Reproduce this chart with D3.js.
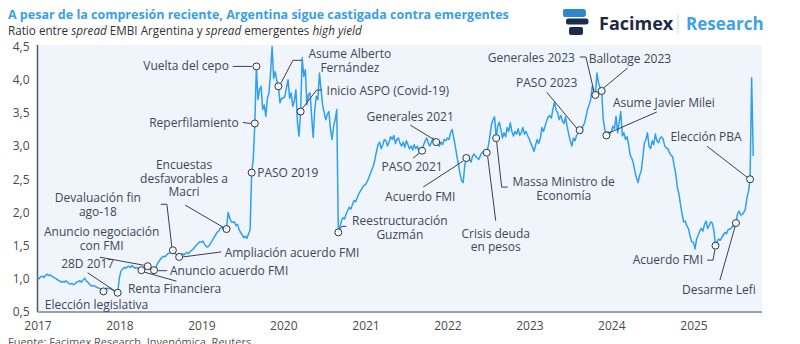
<!DOCTYPE html>
<html>
<head>
<meta charset="utf-8">
<script src="https://cdn.jsdelivr.net/npm/d3@7"></script>
<style>
  body { margin: 0; background: #fff; }
  svg { display: block; font-family: "Open Sans", sans-serif; }
</style>
</head>
<body>
<div class="grafico"></div>
<script>
// ratio spread EMBI Argentina / spread emergentes high yield, una observacion por semana desde el 1 de enero de cada año
const ratio2017 = [1.02, 1.00, 1.03, 1.04, 1.02, 1.05, 1.07, 1.05, 1.06, 1.04, 1.03, 1.01, 1.00, 0.98, 0.97, 0.95, 0.96, 0.95, 0.97, 0.95, 0.93, 0.92, 0.93, 0.91, 0.93, 0.95, 0.96, 0.97, 0.95, 0.98, 1.01, 0.97, 0.95, 0.92, 0.90, 0.89, 0.90, 0.88, 0.87, 0.86, 0.85, 0.83, 0.81, 0.84, 0.86, 0.85, 0.86, 0.84, 0.83, 0.82, 0.80, 0.79];
const ratio2018 = [1.02, 1.12, 1.15, 1.17, 1.16, 1.18, 1.19, 1.17, 1.20, 1.18, 1.16, 1.17, 1.15, 1.16, 1.13, 1.15, 1.17, 1.20, 1.19, 1.17, 1.15, 1.14, 1.13, 1.16, 1.22, 1.26, 1.29, 1.32, 1.34, 1.33, 1.36, 1.38, 1.39, 1.41, 1.43, 1.40, 1.37, 1.35, 1.33, 1.35, 1.38, 1.36, 1.38, 1.40, 1.38, 1.41, 1.43, 1.45, 1.48, 1.51, 1.53, 1.56];
const ratio2019 = [1.55, 1.57, 1.52, 1.49, 1.48, 1.50, 1.54, 1.58, 1.62, 1.66, 1.70, 1.72, 1.76, 1.78, 1.74, 1.77, 1.75, 2.00, 1.92, 1.86, 1.85, 1.86, 1.80, 1.82, 1.74, 1.70, 1.66, 1.62, 1.64, 1.61, 1.68, 1.74, 2.60, 2.80, 3.34, 4.20, 3.70, 3.85, 3.90, 3.55, 3.62, 3.45, 3.72, 3.80, 4.10, 4.50, 4.02, 4.12, 3.98, 3.90, 3.65, 3.72];
const ratio2020 = [3.72, 3.75, 3.88, 4.00, 3.72, 3.80, 3.60, 3.68, 3.85, 3.35, 3.15, 3.52, 4.33, 4.05, 4.15, 3.62, 3.78, 3.80, 3.45, 3.13, 3.55, 3.75, 3.70, 4.10, 3.85, 3.62, 3.50, 3.40, 3.48, 3.52, 3.25, 3.10, 3.30, 3.40, 3.55, 1.70, 1.78, 1.88, 1.92, 1.90, 1.98, 2.03, 2.08, 2.05, 2.12, 2.18, 2.16, 2.22, 2.28, 2.32, 2.36, 2.40];
const ratio2021 = [2.42, 2.46, 2.52, 2.58, 2.64, 2.70, 2.80, 2.92, 3.02, 3.06, 2.96, 3.02, 3.10, 3.08, 3.00, 3.06, 3.14, 3.10, 3.16, 3.04, 3.10, 3.12, 3.04, 3.00, 3.06, 2.98, 3.08, 3.02, 2.96, 3.00, 2.94, 3.02, 2.96, 3.00, 2.92, 2.97, 2.93, 3.02, 3.08, 3.12, 3.04, 3.00, 3.06, 3.12, 3.08, 3.06, 3.02, 3.00, 3.06, 3.02, 3.10, 3.08];
const ratio2022 = [3.12, 3.10, 3.20, 3.25, 3.12, 3.00, 2.85, 2.72, 2.58, 2.48, 2.45, 2.70, 2.82, 2.86, 2.80, 2.76, 2.85, 2.88, 2.84, 2.82, 2.80, 2.86, 2.90, 2.92, 2.88, 2.90, 3.00, 3.15, 3.32, 3.40, 3.44, 3.12, 3.30, 3.36, 3.25, 3.12, 3.20, 3.14, 3.28, 3.22, 3.35, 3.22, 3.15, 3.22, 3.18, 3.26, 3.16, 3.20, 3.28, 3.18, 3.22, 3.16];
const ratio2023 = [3.10, 3.04, 2.98, 2.92, 3.02, 3.10, 3.04, 3.12, 3.28, 3.22, 3.30, 3.38, 3.44, 3.46, 3.42, 3.56, 3.66, 3.54, 3.50, 3.40, 3.46, 3.38, 3.34, 3.44, 3.30, 3.18, 3.08, 3.00, 3.12, 3.08, 3.16, 3.20, 3.24, 3.20, 3.30, 3.34, 3.44, 3.55, 3.62, 3.70, 3.90, 3.82, 3.77, 4.10, 3.95, 3.88, 3.83, 3.40, 3.25, 3.16, 3.22, 3.18];
const ratio2024 = [3.22, 3.30, 3.26, 3.45, 3.20, 3.36, 3.52, 3.15, 3.20, 3.10, 3.14, 3.02, 2.86, 2.82, 2.74, 2.62, 2.52, 2.45, 2.56, 2.62, 2.82, 3.04, 3.10, 3.20, 3.00, 2.96, 3.08, 3.02, 3.18, 3.08, 3.05, 3.12, 3.14, 3.10, 3.00, 2.97, 2.96, 2.90, 2.86, 2.84, 2.70, 2.58, 2.38, 2.28, 2.12, 1.98, 1.86, 1.87, 1.80, 1.76, 1.66, 1.56];
const ratio2025 = [1.55, 1.45, 1.60, 1.66, 1.72, 1.76, 1.72, 1.82, 1.87, 1.76, 1.80, 1.86, 1.84, 1.72, 1.50, 1.56, 1.60, 1.58, 1.62, 1.66, 1.70, 1.68, 1.74, 1.75, 1.76, 1.80, 1.78, 1.84, 1.98, 2.02, 1.96, 1.97, 2.00, 2.05, 2.22, 2.32, 2.50, 4.03, 2.85];

const anios = [2017, 2018, 2019, 2020, 2021, 2022, 2023, 2024, 2025];
const ratios = [ratio2017, ratio2018, ratio2019, ratio2020, ratio2021, ratio2022, ratio2023, ratio2024, ratio2025];

const ticksY = [0.5, 1, 1.5, 2, 2.5, 3, 3.5, 4, 4.5];

// hitos marcados sobre la serie
const eventoFechas = ["2017-10-22", "2017-12-28", "2018-04-09", "2018-05-08", "2018-06-07", "2018-08-30", "2018-09-26",
  "2019-04-24", "2019-08-11", "2019-08-28", "2019-09-01", "2019-12-10", "2020-03-20", "2020-08-31",
  "2021-09-12", "2021-11-14", "2022-03-25", "2022-06-28", "2022-08-03", "2023-08-13", "2023-10-22",
  "2023-11-19", "2023-12-10", "2025-04-11", "2025-07-10", "2025-09-07"];
const eventoTextos = [["Elección legislativa"], ["28D 2017"], ["Renta Financiera"], ["Anuncio negociación", "con FMI"],
  ["Anuncio acuerdo FMI"], ["Devaluación fin", "ago-18"], ["Ampliación acuerdo FMI"], ["Encuestas", "desfavorables a", "Macri"],
  ["PASO 2019"], ["Reperfilamiento"], ["Vuelta del cepo"], ["Asume Alberto", "Fernández"], ["Inicio ASPO (Covid-19)"],
  ["Reestructuración", "Guzmán"], ["PASO 2021"], ["Generales 2021"], ["Acuerdo FMI"], ["Crisis deuda", "en pesos"],
  ["Massa Ministro de", "Economía"], ["PASO 2023"], ["Generales 2023"], ["Ballotage 2023"], ["Asume Javier Milei"],
  ["Acuerdo FMI"], ["Desarme Lefi"], ["Elección PBA"]];

// ubicacion de cada rotulo y su guia, relativa al marcador
const rotulos = [
  { dx: -7, dy: 17.5, anchor: "middle", guia: [] },
  { dx: -30, dy: -25, anchor: "middle", guia: [[-30, -20], [-3, -2]] },
  { dx: -13.5, dy: 23, anchor: "start", guia: [[3, 2], [35, 11]] },
  { dx: -46, dy: -30, anchor: "middle", guia: [[-48, -9], [-4, -1]] },
  { dx: 16, dy: 4.5, anchor: "start", guia: [[4, 0.5], [13, 0.5]] },
  { dx: -75, dy: -48, anchor: "middle", guia: [[-12, -46], [-6, -46], [-1, -3]] },
  { dx: 45.5, dy: 0, anchor: "start", guia: [[4, 0], [42, -5]] },
  { dx: -42.5, dy: -60, anchor: "middle", guia: [[-41.5, -24], [-3, -1.5]] },
  { dx: 5.5, dy: 4.5, anchor: "start", guia: [] },
  { dx: -16, dy: 4, anchor: "end", guia: [[-12, -1], [-4, 0]] },
  { dx: -27.5, dy: 4, anchor: "end", guia: [[-23.5, 0], [-4.5, 0]] },
  { dx: 71.5, dy: -28, anchor: "middle", guia: [[2.5, -3], [14.5, -26], [23.5, -26]] },
  { dx: 26, dy: -16.5, anchor: "start", guia: [[2, -3.5], [16, -21.5], [21.5, -21.5]] },
  { dx: 61.5, dy: -7, anchor: "middle", guia: [[1.5, -3.5], [3.5, -6], [8, -6]] },
  { dx: -10, dy: 20, anchor: "middle", guia: [[-9, 7.5], [-3, 2.5]] },
  { dx: -26, dy: -21, anchor: "middle", guia: [[-26, -17], [-3, -3]] },
  { dx: -46, dy: 43, anchor: "middle", guia: [[-43, 29], [-3, 3]] },
  { dx: 9, dy: 85, anchor: "middle", guia: [[1, 4], [9, 68]] },
  { dx: 67.5, dy: 48, anchor: "middle", guia: [[0.5, 4], [5.5, 49], [11.5, 49]] },
  { dx: -33, dy: -43, anchor: "middle", guia: [[-33, -38], [-3, -2]] },
  { dx: -20.5, dy: -33, anchor: "end", guia: [[-15.5, -38], [-9.5, -38], [-1.5, -4]] },
  { dx: -13, dy: -28, anchor: "start", guia: [[26, -23], [2, -3]] },
  { dx: 6.5, dy: -28.5, anchor: "start", guia: [[50.5, -23.5], [2.5, -2.5]] },
  { dx: -12.5, dy: 18.5, anchor: "end", guia: [[-8.5, 14.5], [-2.5, 14.5], [-0.5, 3.5]] },
  { dx: -17, dy: 71, anchor: "middle", guia: [[-16, 57], [-1, 4]] },
  { dx: -44, dy: -38, anchor: "middle", guia: [[-43, -33], [-3, -2]] }
];

const width = 800
const height = 344

const serie = []
anios.forEach((anio, j) => {
  ratios[j].forEach((v, i) => {
    serie.push({ fecha: d3.timeDay.offset(new Date(anio, 0, 1), i * 7), valor: v })
  })
})

const parseFecha = d3.timeParse("%Y-%m-%d")

let svg = d3.select('.grafico')
  .append('svg')
  .attr('width', width)
  .attr('height', height)

const x = d3.scaleTime()
  .domain([new Date(2017, 0, 1), new Date(2025, 0, 1)])
  .range([37.5, 693.5])

const y = d3.scaleLinear()
  .domain([0.5, 4.5])
  .range([312, 46.5])

// fondo del area de grafico
svg.append('rect')
  .attr('x', 37.5)
  .attr('y', 45)
  .attr('width', 762 - 37.5)
  .attr('height', 312 - 45)
  .attr('fill', '#f0f5fb')

// titulo y bajada
svg.append('text')
  .attr('x', 8)
  .attr('y', 19)
  .attr('font-size', 12.5)
  .attr('font-weight', 700)
  .attr('fill', '#38a0e6')
  .text('A pesar de la compresión reciente, Argentina sigue castigada contra emergentes')

let bajada = svg.append('text')
  .attr('x', 8)
  .attr('y', 35)
  .attr('font-size', 11.7)
  .attr('fill', '#333')
bajada.append('tspan').text('Ratio entre ')
bajada.append('tspan').attr('font-style', 'italic').text('spread')
bajada.append('tspan').text(' EMBI Argentina y ')
bajada.append('tspan').attr('font-style', 'italic').text('spread')
bajada.append('tspan').text(' emergentes ')
bajada.append('tspan').attr('font-style', 'italic').text('high yield')

// logo
let logo = svg.append('g')
logo.append('path')
  .attr('d', 'M565,9 h18 a3,3 0 0 1 3,3 v2 a3,3 0 0 1 -3,3 h-18 a2,2 0 0 1 -2,-2 v-4 a2,2 0 0 1 2,-2 z')
  .attr('fill', '#2f86c8')
logo.append('path')
  .attr('d', 'M568,18.5 h18 a2.5,2.5 0 0 1 2.5,2.5 v1 a2.5,2.5 0 0 1 -2.5,2.5 h-18 a2,2 0 0 1 -2,-2 v-2 a2,2 0 0 1 2,-2 z')
  .attr('fill', '#1d2c4c')
logo.append('path')
  .attr('d', 'M571,27 h10 a2,2 0 0 1 2,2 v4 a2,2 0 0 1 -2,2 h-10 a2,2 0 0 1 -2,-2 v-4 a2,2 0 0 1 2,-2 z')
  .attr('fill', '#1d2c4c')
logo.append('text')
  .attr('x', 599)
  .attr('y', 30)
  .attr('font-size', 18)
  .attr('font-weight', 700)
  .attr('fill', '#1d2a45')
  .text('Facimex')
logo.append('line')
  .attr('x1', 678).attr('x2', 678)
  .attr('y1', 14).attr('y2', 34)
  .attr('stroke', '#d5d9e0')
logo.append('text')
  .attr('x', 686)
  .attr('y', 30)
  .attr('font-size', 17)
  .attr('font-weight', 700)
  .attr('fill', '#3ea2e6')
  .text('Research')

// ejes
const coma = d3.formatLocale({ decimal: ',', thousands: '.', grouping: [3], currency: ['$', ''] }).format('.1f')

let ejeY = svg.append('g')
  .attr('transform', 'translate(37.5,0)')
  .call(d3.axisLeft(y).tickValues(ticksY).tickFormat(coma).tickSize(0).tickSizeOuter(0).tickPadding(8))
ejeY.select('.domain')
  .attr('stroke', '#4f5668')
  .attr('stroke-width', 1.5)
  .attr('d', 'M0,312V45')
ejeY.selectAll('text')
  .attr('font-size', 12)
  .attr('font-family', '"Open Sans", sans-serif')
  .attr('fill', '#4a4a4a')

let ejeX = svg.append('g')
  .attr('transform', 'translate(0,312)')
  .call(d3.axisBottom(x).tickValues(anios.map(a => new Date(a, 0, 1))).tickFormat(d3.timeFormat('%Y')).tickSize(0).tickPadding(9))
ejeX.select('.domain').remove()
ejeX.selectAll('text')
  .attr('font-size', 12)
  .attr('font-family', '"Open Sans", sans-serif')
  .attr('fill', '#4a4a4a')
svg.append('line')
  .attr('x1', 37.5).attr('x2', 762)
  .attr('y1', 312).attr('y2', 312)
  .attr('stroke', '#9aa0ab')
  .attr('stroke-width', 2)

// serie
const linea = d3.line()
  .x(d => x(d.fecha))
  .y(d => y(d.valor))

svg.append('path')
  .datum(serie)
  .attr('d', linea)
  .attr('fill', 'none')
  .attr('stroke', '#2e9ff2')
  .attr('stroke-width', 1.5)
  .attr('stroke-linejoin', 'round')

// hitos: marcador sobre el punto mas cercano de la serie
const hitos = eventoFechas.map((f, i) => {
  const fecha = parseFecha(f)
  const punto = d3.least(serie, d => Math.abs(d.fecha - fecha))
  return { px: x(punto.fecha), py: y(punto.valor), texto: eventoTextos[i], rot: rotulos[i] }
})

const guia = d3.line()

svg.selectAll('.guia')
  .data(hitos.filter(h => h.rot.guia.length))
  .enter()
  .append('path')
  .attr('class', 'guia')
  .attr('d', h => guia(h.rot.guia.map(p => [h.px + p[0], h.py + p[1]])))
  .attr('fill', 'none')
  .attr('stroke', '#3a3f4c')
  .attr('stroke-width', 1)

svg.selectAll('.marcador')
  .data(hitos)
  .enter()
  .append('circle')
  .attr('class', 'marcador')
  .attr('cx', h => h.px)
  .attr('cy', h => h.py)
  .attr('r', 3.5)
  .attr('fill', '#fff')
  .attr('fill-opacity', 0.85)
  .attr('stroke', '#333')
  .attr('stroke-width', 1)

let rot = svg.selectAll('.rotulo')
  .data(hitos)
  .enter()
  .append('text')
  .attr('class', 'rotulo')
  .attr('text-anchor', h => h.rot.anchor)
  .attr('font-size', 12)
  .attr('fill', '#3d4559')

rot.selectAll('tspan')
  .data(h => h.texto.map((t, k) => ({ t: t, k: k, h: h })))
  .enter()
  .append('tspan')
  .attr('x', d => d.h.px + d.h.rot.dx)
  .attr('y', d => d.h.py + d.h.rot.dy + d.k * 13.5)
  .text(d => d.t)

// fuente
svg.append('text')
  .attr('x', 8)
  .attr('y', 346)
  .attr('font-size', 11)
  .attr('fill', '#555')
  .text('Fuente: Facimex Research, Invenómica, Reuters')
</script>
</body>
</html>
